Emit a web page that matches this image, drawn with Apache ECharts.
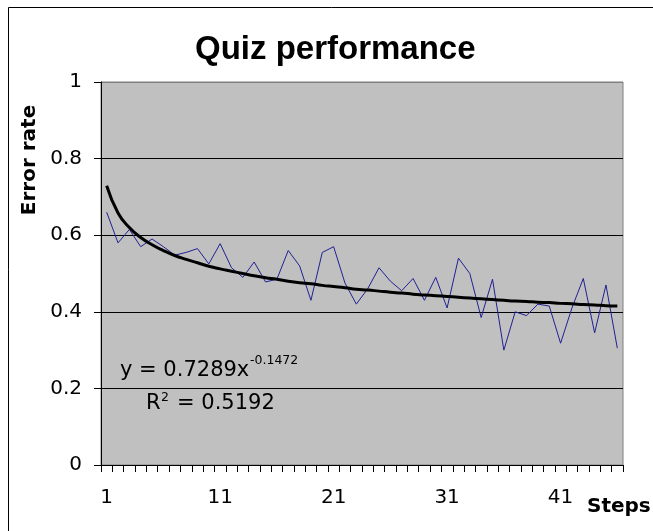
<!DOCTYPE html>
<html>
<head>
<meta charset="utf-8">
<script src="https://cdn.jsdelivr.net/npm/echarts@6/dist/echarts.min.js"></script>
<style>
  html, body { margin: 0; padding: 0; background: #fff; }
  #chart { width: 653px; height: 531px; }
</style>
</head>
<body>
<div id="chart"></div>
<script>
// steps on the x axis
var steps = ['1','2','3','4','5','6','7','8','9','10','11','12','13','14','15','16',
  '17','18','19','20','21','22','23','24','25','26','27','28','29','30','31','32',
  '33','34','35','36','37','38','39','40','41','42','43','44','45','46'];

// error rate per step (blue line)
var errorRate = [0.66, 0.58, 0.615, 0.57, 0.59, 0.57, 0.548, 0.555, 0.565, 0.525,
  0.578, 0.515, 0.49, 0.53, 0.478, 0.485, 0.56, 0.52, 0.43, 0.555,
  0.57, 0.475, 0.42, 0.46, 0.515, 0.48, 0.455, 0.487, 0.43, 0.49,
  0.41, 0.54, 0.50, 0.385, 0.485, 0.30, 0.40, 0.39, 0.42, 0.415,
  0.318, 0.41, 0.487, 0.345, 0.47, 0.305];

// power trendline
var trend = [0.729, 0.658, 0.620, 0.594, 0.575, 0.560, 0.547, 0.537, 0.528, 0.519,
  0.512, 0.506, 0.500, 0.494, 0.489, 0.485, 0.480, 0.476, 0.473, 0.469,
  0.466, 0.463, 0.459, 0.457, 0.454, 0.451, 0.449, 0.446, 0.444, 0.442,
  0.440, 0.438, 0.436, 0.434, 0.432, 0.430, 0.428, 0.427, 0.425, 0.424,
  0.422, 0.421, 0.419, 0.418, 0.416, 0.415];

var yTicks = [0, 0.2, 0.4, 0.6, 0.8, 1];

var font = '"DejaVu Sans", Arial, sans-serif';
var titleFont = '"Liberation Sans", Arial, sans-serif';
var chart = echarts.init(document.getElementById('chart'));

var option = {
  animation: false,
  backgroundColor: '#fff',
  title: {
    text: 'Quiz performance',
    left: 190,
    top: 28,
    textStyle: { fontFamily: titleFont, fontSize: 33, fontWeight: 'bold', color: '#000' }
  },
  grid: {
    left: 101, right: 30, top: 82, bottom: 66,
    show: true,
    backgroundColor: '#c0c0c0',
    borderColor: '#808080',
    borderWidth: 1
  },
  xAxis: {
    type: 'category',
    data: steps,
    boundaryGap: true,
    axisLine: { show: true, lineStyle: { color: '#000', width: 1 } },
    axisTick: { show: true, interval: 0, length: 7, lineStyle: { color: '#000', width: 1 } },
    axisLabel: {
      interval: 9, margin: 23,
      fontFamily: font, fontSize: 20, color: '#000'
    },
    splitLine: { show: false }
  },
  yAxis: {
    type: 'value',
    min: yTicks[0],
    max: yTicks[yTicks.length - 1],
    interval: 0.2,
    axisLine: { show: true, lineStyle: { color: '#000', width: 1 } },
    axisTick: { show: true, length: 7, lineStyle: { color: '#000' } },
    axisLabel: { margin: 19, fontFamily: font, fontSize: 20, color: '#000' },
    splitLine: {
      show: true,
      lineStyle: { color: ['#000', '#000', '#000', '#000', '#000', '#808080'], width: 1 }
    }
  },
  series: [
    {
      name: 'Error rate',
      type: 'line',
      data: errorRate,
      symbol: 'none',
      lineStyle: { color: '#202094', width: 1 },
      z: 2
    },
    {
      name: 'Trend',
      type: 'line',
      data: trend,
      symbol: 'none',
      smooth: true,
      lineStyle: { color: '#000', width: 3 },
      z: 3
    }
  ],
  graphic: [
    {
      type: 'rect', silent: true,
      shape: { x: 8.5, y: 7.5, width: 700, height: 600 },
      style: { fill: 'none', stroke: '#000', lineWidth: 1 }
    },
    {
      type: 'text', silent: true,
      x: 30, y: 160, rotation: Math.PI / 2,
      style: {
        text: 'Error rate', fill: '#000',
        font: 'bold 20px ' + font,
        align: 'center', verticalAlign: 'middle'
      }
    },
    {
      type: 'text', silent: true,
      x: 587, y: 507,
      style: {
        text: 'Steps', fill: '#000',
        font: 'bold 20px ' + font,
        align: 'left', verticalAlign: 'middle'
      }
    },
    // trendline equation
    {
      type: 'text', silent: true, x: 120, y: 360,
      style: { text: 'y = 0.7289x', fill: '#000', font: '21px ' + font, verticalAlign: 'top' }
    },
    {
      type: 'text', silent: true, x: 250, y: 354,
      style: { text: '-0.1472', fill: '#000', font: '12.5px ' + font, verticalAlign: 'top' }
    },
    {
      type: 'text', silent: true, x: 146, y: 393,
      style: { text: 'R', fill: '#000', font: '21px ' + font, verticalAlign: 'top' }
    },
    {
      type: 'text', silent: true, x: 161, y: 391,
      style: { text: '2', fill: '#000', font: '12.5px ' + font, verticalAlign: 'top' }
    },
    {
      type: 'text', silent: true, x: 177, y: 393,
      style: { text: '= 0.5192', fill: '#000', font: '21px ' + font, verticalAlign: 'top' }
    }
  ]
};

chart.setOption(option);
</script>
</body>
</html>
